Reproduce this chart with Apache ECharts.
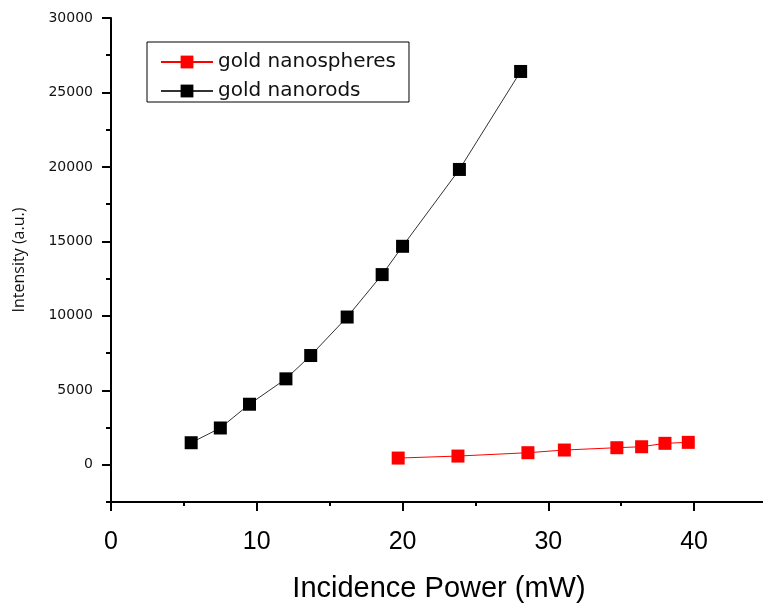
<!DOCTYPE html>
<html>
<head>
<meta charset="utf-8">
<script src="https://cdn.jsdelivr.net/npm/echarts@6/dist/echarts.min.js"></script>
<style>html,body{margin:0;padding:0;background:#fff}#c{width:763px;height:603px}</style>
</head>
<body>
<div id="c"></div>
<script>
// Data
const sphereX = [19.7, 23.8, 28.6, 31.1, 34.7, 36.4, 38.0, 39.6];
const sphereY = [450, 585, 810, 990, 1145, 1210, 1440, 1505];
const rodX = [5.5, 7.5, 9.5, 12.0, 13.7, 16.2, 18.6, 20.0, 23.9, 28.1];
const rodY = [1480, 2470, 4065, 5770, 7335, 9920, 12770, 14670, 19830, 26410];
const xMajorTicks = [0, 10, 20, 30, 40];
const xMinorTicks = [5, 15, 25, 35];
const yMajorTicks = [0, 5000, 10000, 15000, 20000, 25000, 30000];
const yMinorTicks = [-2500, 2500, 7500, 12500, 17500, 22500, 27500];
const seriesNames = ['gold nanospheres', 'gold nanorods'];

const chart = echarts.init(document.getElementById('c'), null, {renderer: 'canvas'});
const pairs = (xs, ys) => xs.map((x, i) => [x, ys[i]]);
const axisLineStyle = {color: '#000', width: 2};

chart.setOption({
  animation: false,
  backgroundColor: '#fff',
  grid: {left: 111, top: 18, right: -4, bottom: 101, outerBoundsMode: 'none', containLabel: false},
  legend: {
    orient: 'vertical',
    left: 147, top: 42,
    padding: [10, 13, 1, 13],
    itemGap: 9,
    itemWidth: 52, itemHeight: 16,
    borderColor: '#000', borderWidth: 1,
    textStyle: {fontFamily: 'DejaVu Sans', fontSize: 20, color: '#111'},
    data: seriesNames
  },
  xAxis: [{
    type: 'value', position: 'bottom', min: 0, max: 45, interval: 5,
    splitLine: {show: false},
    axisLine: {onZero: false, lineStyle: axisLineStyle},
    axisTick: {show: true, length: 9, lineStyle: {color: '#000', width: 2}, customValues: xMajorTicks},
    axisLabel: {margin: 28, fontFamily: 'Liberation Sans', fontSize: 25, color: '#000', customValues: xMajorTicks},
    name: 'Incidence Power (mW)', nameLocation: 'middle', nameGap: 72,
    nameTextStyle: {fontFamily: 'Liberation Sans', fontSize: 29, color: '#000'}
  }, {
    type: 'value', position: 'bottom', min: 0, max: 45, interval: 5,
    splitLine: {show: false},
    axisLine: {show: false, onZero: false},
    axisTick: {show: true, length: 4, lineStyle: {color: '#000', width: 2}, customValues: xMinorTicks},
    axisLabel: {show: false}
  }],
  yAxis: [{
    type: 'value', position: 'left', min: -2500, max: 30000, interval: 2500,
    splitLine: {show: false},
    axisLine: {show: true, onZero: false, lineStyle: axisLineStyle},
    axisTick: {show: true, length: 9, lineStyle: {color: '#000', width: 2}, customValues: yMajorTicks},
    axisLabel: {margin: 18, fontFamily: 'DejaVu Sans', fontSize: 14, color: '#111',
      customValues: yMajorTicks, formatter: v => String(v)},
    name: 'Intensity (a.u.)', nameLocation: 'middle', nameGap: 84,
    nameTextStyle: {fontFamily: 'Open Sans', fontSize: 16, color: '#111'}
  }, {
    type: 'value', position: 'left', min: -2500, max: 30000, interval: 2500,
    splitLine: {show: false},
    axisLine: {show: false, onZero: false},
    axisTick: {show: true, length: 5, lineStyle: {color: '#000', width: 2}, customValues: yMinorTicks},
    axisLabel: {show: false}
  }],
  series: [{
    name: seriesNames[0], type: 'line', xAxisIndex: 0, yAxisIndex: 0,
    data: pairs(sphereX, sphereY),
    symbol: 'rect', symbolSize: 13,
    itemStyle: {color: '#ff0000'},
    lineStyle: {color: '#ff0000', width: 1}
  }, {
    name: seriesNames[1], type: 'line', xAxisIndex: 0, yAxisIndex: 0,
    data: pairs(rodX, rodY),
    symbol: 'rect', symbolSize: 13,
    itemStyle: {color: '#000'},
    lineStyle: {color: '#333', width: 1}
  }]
});
</script>
</body>
</html>
